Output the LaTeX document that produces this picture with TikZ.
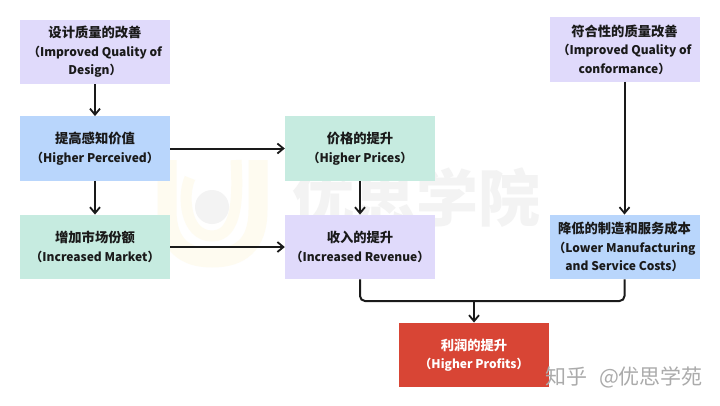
\documentclass[tikz,border=0pt]{standalone}
\usepackage{fontspec}
\setmainfont{Noto Sans CJK SC}
\newfontfamily\wmfont{Noto Sans CJK SC}
\usetikzlibrary{arrows.meta}
\definecolor{lav}{HTML}{E0DAFB}
\definecolor{blu}{HTML}{B9D6FC}
\definecolor{grn}{HTML}{C6EBE0}
\definecolor{redb}{HTML}{D84535}
\definecolor{ink}{HTML}{1A1A1A}
\definecolor{wmy}{HTML}{FEFBF0}
\definecolor{wmg}{HTML}{F3F3F3}
\newcommand\zhline[1]{{\fontsize{13.3pt}{18.5pt}\selectfont #1}}
\tikzset{
  flowbox/.style={minimum width=150pt,minimum height=64.5pt,inner sep=0pt,align=center,text=ink,
    font=\fontsize{12pt}{18.5pt}\selectfont\bfseries,anchor=center},
  lavbox/.style={flowbox,fill=lav},
  blubox/.style={flowbox,fill=blu},
  grnbox/.style={flowbox,fill=grn},
  redbox/.style={flowbox,fill=redb,text=white},
  conn/.style={draw=ink,line width=2pt,-{Straight Barb[length=6pt,width=10pt,line width=1.8pt]}},
  connplain/.style={draw=ink,line width=2pt,rounded corners=5pt},
}
\begin{document}
\begin{tikzpicture}[x=1pt,y=-1pt]
\useasboundingbox (0,0) rectangle (720,405);
\fill[white] (0,0) rectangle (720,405);
% faint watermark
\draw[wmy,line width=19pt] (167,160) -- (167,210) .. controls (167,245) and (185,258) .. (212,258) .. controls (240,258) and (258,245) .. (258,210) -- (258,160);
\draw[wmy,line width=11pt] (190,178) .. controls (182,195) and (185,236) .. (212,236) .. controls (238,236) and (238,195) .. (236,160);
\fill[wmg] (212,207) circle (17);
\node[wmg,font=\wmfont\fontsize{62pt}{64pt}\selectfont\bfseries,inner sep=0pt] (wm) at (416,198) {优思学院};
% boxes
\node[lavbox] (design) at (95,52) {\zhline{设计质量的改善}\\（Improved Quality of\\Design）};
\node[blubox] (perceived) at (95,148.5) {\zhline{提高感知价值}\\（Higher Perceived）};
\node[grnbox] (market) at (95,247) {\zhline{增加市场份额}\\（Increased Market）};
\node[grnbox] (prices) at (360,148.5) {\zhline{价格的提升}\\（Higher Prices）};
\node[lavbox] (revenue) at (360,247) {\zhline{收入的提升}\\（Increased Revenue）};
\node[lavbox] (conform) at (624.5,49.5) {\zhline{符合性的质量改善}\\（Improved Quality of\\conformance）};
\node[blubox] (costs) at (624.5,247) {\zhline{降低的制造和服务成本}\\（Lower Manufacturing\\and Service Costs）};
\node[redbox] (profits) at (474,355) {\zhline{利润的提升}\\（Higher Profits）};
% connectors
\draw[conn] (design) -- (perceived);
\draw[conn] (perceived) -- (market);
\draw[conn] (perceived) -- (prices);
\draw[conn] (market) -- (revenue);
\draw[conn] (prices) -- (revenue);
\draw[conn] (conform) -- (costs);
\coordinate (join) at (profits.north |- 0,301);
\draw[connplain] (revenue.south) |- (join) -| (costs.south);
\draw[conn] (join) -- (profits);
% site mark
\node[text=black!33,font=\wmfont\fontsize{21pt}{24pt}\selectfont,inner sep=0pt] (mark) at (624,377) {知乎\hspace{12pt}@优思学苑};
\end{tikzpicture}
\end{document}
